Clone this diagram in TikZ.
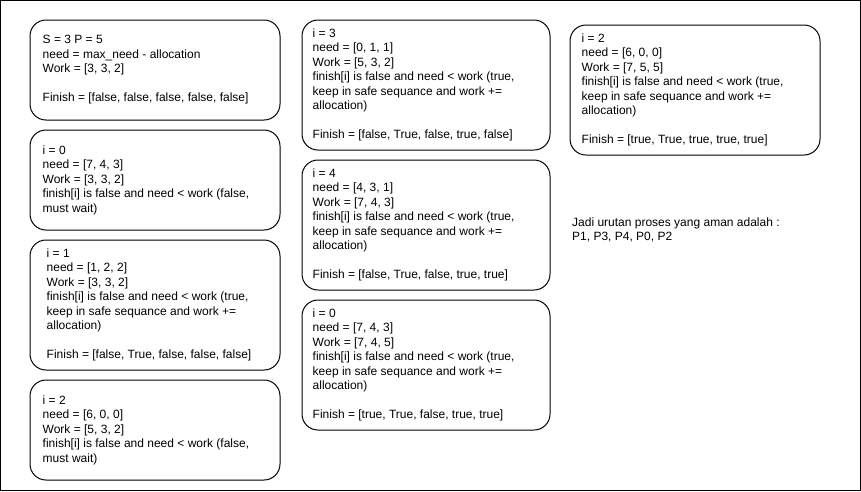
\documentclass[tikz,border=0pt]{standalone}
\usepackage{fontspec}
\setmainfont{Liberation Sans}
\usetikzlibrary{positioning}
\tikzset{card/.style = {draw, line width = 1pt, rounded corners = 16pt,
                        minimum width = 250, inner sep = 0}}
\tikzset{txt/.style = {align = left, inner sep = 0,
                       font = \fontsize{12}{14.5}\selectfont}}

\begin{document}
\begin{tikzpicture}[x=1pt, y=-1pt]
    \useasboundingbox (0,0) rectangle (861,491);
    \draw [line width = 1pt] (0.5,0.5) rectangle (860.5,490.5);
    % first column
    \node [card, minimum height = 100] (init) at (155,70) {};
    \node [txt, right=13pt of init.west] (init-t) {S = 3 P = 5\\ need = max\_need - allocation\\ Work = [3, 3, 2]\\ \mbox{}\\ Finish = [false, false, false, false, false]};
    \node [card, minimum height = 100] (pzero) at (155,180) {};
    \node [txt, right=13pt of pzero.west] (pzero-t) {i = 0\\ need = [7, 4, 3]\\ Work = [3, 3, 2]\\ finish[i] is false and need < work (false,\\ must wait)};
    \node [card, minimum height = 130] (pone) at (155,305) {};
    \node [txt, right=17pt of pone.west] (pone-t) {i = 1\\ need = [1, 2, 2]\\ Work = [3, 3, 2]\\ finish[i] is false and need < work (true,\\ keep in safe sequance and work +=\\ allocation)\\ \mbox{}\\ Finish = [false, True, false, false, false]};
    \node [card, minimum height = 100] (ptwo) at (155,430) {};
    \node [txt, right=13pt of ptwo.west] (ptwo-t) {i = 2\\ need = [6, 0, 0]\\ Work = [5, 3, 2]\\ finish[i] is false and need < work (false,\\ must wait)};
    % second column
    \node [card, minimum width = 248, minimum height = 130] (pthree) at (426,85) {};
    \node [txt, right=11pt of pthree.west] (pthree-t) {i = 3\\ need = [0, 1, 1]\\ Work = [5, 3, 2]\\ finish[i] is false and need < work (true,\\ keep in safe sequance and work +=\\ allocation)\\ \mbox{}\\ Finish = [false, True, false, true, false]};
    \node [card, minimum width = 248, minimum height = 130] (pfour) at (426,225) {};
    \node [txt, right=11pt of pfour.west] (pfour-t) {i = 4\\ need = [4, 3, 1]\\ Work = [7, 4, 3]\\ finish[i] is false and need < work (true,\\ keep in safe sequance and work +=\\ allocation)\\ \mbox{}\\ Finish = [false, True, false, true, true]};
    \node [card, minimum width = 248, minimum height = 130] (pzeroagain) at (426,365) {};
    \node [txt, right=11pt of pzeroagain.west] (pzeroagain-t) {i = 0\\ need = [7, 4, 3]\\ Work = [7, 4, 5]\\ finish[i] is false and need < work (true,\\ keep in safe sequance and work +=\\ allocation)\\ \mbox{}\\ Finish = [true, True, false, true, true]};
    % third column
    \node [card, minimum height = 130] (ptwoagain) at (695,90) {};
    \node [txt, right=12pt of ptwoagain.west] (ptwoagain-t) {i = 2\\ need = [6, 0, 0]\\ Work = [7, 5, 5]\\ finish[i] is false and need < work (true,\\ keep in safe sequance and work +=\\ allocation)\\ \mbox{}\\ Finish = [true, True, true, true, true]};
    \node [txt, anchor = west] (result) at (572,230) {Jadi urutan proses yang aman adalah :\\ P1, P3, P4, P0, P2};
\end{tikzpicture}
\end{document}
